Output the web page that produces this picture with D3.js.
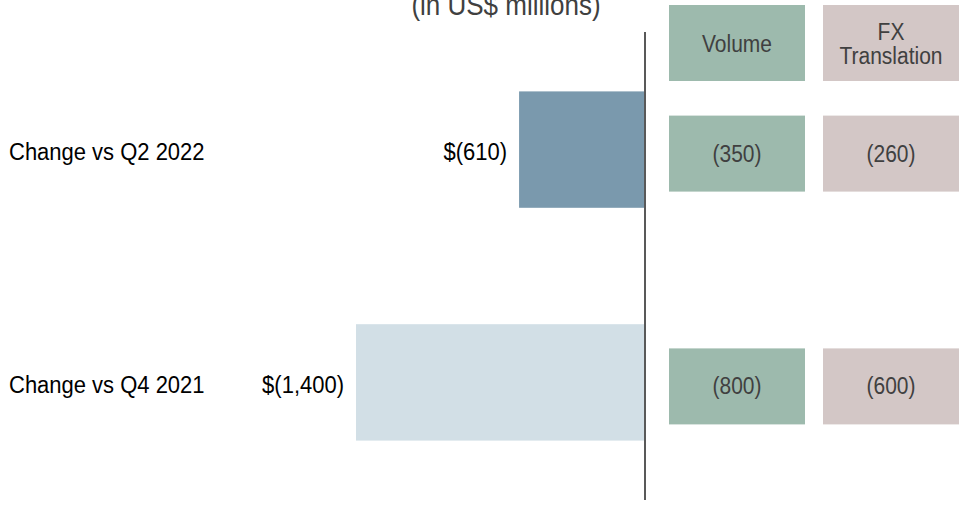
<!DOCTYPE html>
<html>
<head>
<meta charset="utf-8">
<script src="https://cdn.jsdelivr.net/npm/d3@7"></script>
<style>
  body { margin: 0; background: #fff; }
  svg { display: block; font-family: Arial, "Liberation Sans", sans-serif; }
</style>
</head>
<body>
<svg id="chart"></svg>
<script>
'use strict';

// data
const categories = ['Change vs Q2 2022', 'Change vs Q4 2021'];
const totals = [-610, -1400];
const components = ['Volume', 'FX Translation'];
const volume = [-350, -800];
const fxTranslation = [-260, -600];
const title = '(in US$ millions)';

const W = 969, H = 505;
const barColors = ['#7a99ad', '#d2dfe6'];
const boxColors = { 'Volume': '#9dbaad', 'FX Translation': '#d3c7c6' };
const stretch = 1.1; // source text is a little taller than plain Arial

const svg = d3.select('#chart')
    .attr('width', W)
    .attr('height', H);

const x = d3.scaleLinear()
    .domain([-1400, 0])
    .range([356, 645]);

const y = d3.scaleBand()
    .domain(categories)
    .range([-25, 557])
    .paddingInner(0.5)
    .paddingOuter(0.5);

const col = d3.scaleBand()
    .domain(components)
    .range([669, 959])
    .paddingInner(0.117);

const paren = v => v < 0 ? `(${d3.format(',')(-v)})` : d3.format(',')(v);
const mid = c => y(c) + y.bandwidth() / 2;
const at = (px, py) => `translate(${px},${py}) scale(1,${stretch})`;

// title
svg.append('text')
    .attr('transform', at(506, 15))
    .attr('text-anchor', 'middle')
    .attr('fill', '#404040')
    .attr('font-size', 26)
    .text(title);

// bars
svg.append('g')
    .selectAll('rect')
    .data(totals)
  .enter().append('rect')
    .attr('x', d => x(d))
    .attr('y', (d, i) => y(categories[i]))
    .attr('width', d => x(0) - x(d))
    .attr('height', y.bandwidth())
    .attr('fill', (d, i) => barColors[i]);

// zero line
svg.append('line')
    .attr('x1', x(0)).attr('x2', x(0))
    .attr('y1', 32).attr('y2', 500)
    .attr('stroke', '#595959')
    .attr('stroke-width', 2);

// category labels
svg.append('g')
    .selectAll('text')
    .data(categories)
  .enter().append('text')
    .attr('transform', d => at(9, mid(d) + 10.5))
    .attr('font-size', 22)
    .attr('fill', '#000')
    .text(d => d);

// value labels
svg.append('g')
    .selectAll('text')
    .data(totals)
  .enter().append('text')
    .attr('transform', (d, i) => at(x(d) - 12, mid(categories[i]) + 10.5))
    .attr('text-anchor', 'end')
    .attr('font-size', 22)
    .attr('fill', '#000')
    .text(d => '$' + paren(d));

// header boxes
const head = svg.append('g')
    .selectAll('g')
    .data(components)
  .enter().append('g');

head.append('rect')
    .attr('x', d => col(d))
    .attr('y', 5)
    .attr('width', col.bandwidth())
    .attr('height', 76)
    .attr('fill', d => boxColors[d]);

head.each(function(d) {
  const words = d === 'FX Translation' ? ['FX', 'Translation'] : [d];
  const cx = col(d) + col.bandwidth() / 2;
  words.forEach((w, i) => {
    d3.select(this).append('text')
        .attr('transform', at(cx, 43 + (i - (words.length - 1) / 2) * 24 + 9))
        .attr('text-anchor', 'middle')
        .attr('font-size', 21)
        .attr('fill', '#404040')
        .text(w);
  });
});

// component boxes
const series = [volume, fxTranslation];
const cells = [];
categories.forEach((c, i) => {
  components.forEach((k, j) => cells.push({ cat: c, comp: k, value: series[j][i] }));
});

const cell = svg.append('g')
    .selectAll('g')
    .data(cells)
  .enter().append('g');

cell.append('rect')
    .attr('x', d => col(d.comp))
    .attr('y', d => mid(d.cat) + 4 - 38)
    .attr('width', col.bandwidth())
    .attr('height', 76)
    .attr('fill', d => boxColors[d.comp]);

cell.append('text')
    .attr('transform', d => at(col(d.comp) + col.bandwidth() / 2, mid(d.cat) + 4 + 8))
    .attr('text-anchor', 'middle')
    .attr('font-size', 21)
    .attr('fill', '#404040')
    .text(d => paren(d.value));
</script>
</body>
</html>
